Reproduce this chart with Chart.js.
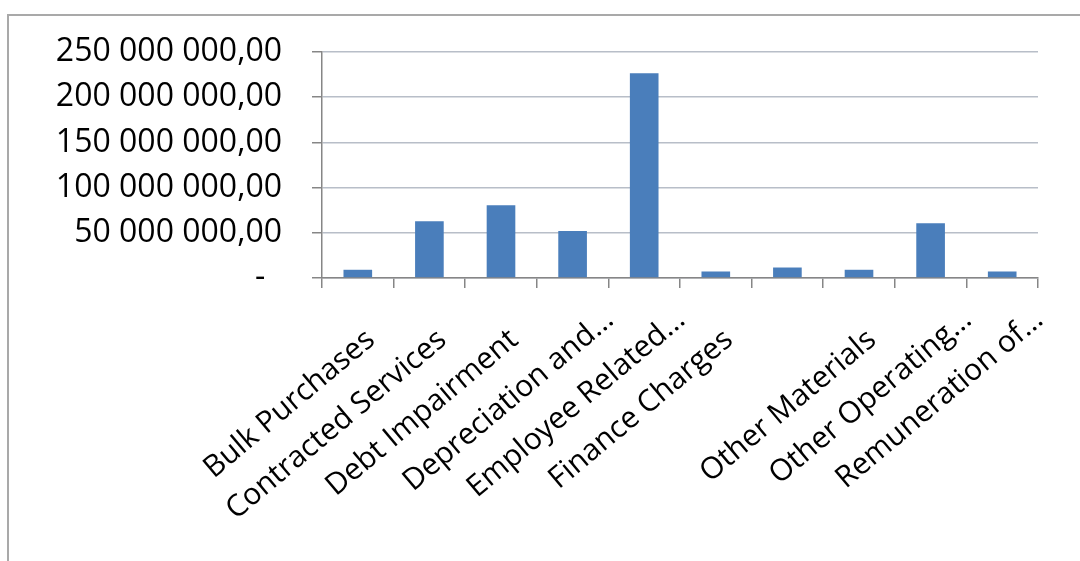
<!DOCTYPE html>
<html><head><meta charset="utf-8">
<script src="https://cdn.jsdelivr.net/npm/chart.js@4.4.1/dist/chart.umd.min.js"></script>
<style>
html,body{margin:0;padding:0;background:#fff;overflow:hidden;}
#wrap{position:relative;width:1080px;height:561px;overflow:hidden;}
#frame{position:absolute;left:7px;top:14px;width:1100px;height:600px;border:2px solid #a9a9a9;box-sizing:border-box;}
canvas{position:absolute;left:0;top:0;}
</style></head>
<body><div id="wrap"><div id="frame"></div><canvas id="c" width="1080" height="561"></canvas></div>
<script>
const categories = ['Bulk Purchases','Contracted Services','Debt Impairment','Depreciation and…','Employee Related…','Finance Charges','','Other Materials','Other Operating…','Remuneration of…'];
const expenditure = [9100000, 62800000, 80400000, 51900000, 226500000, 7200000, 11600000, 9100000, 60600000, 7200000];
const yTickValues = [0, 50000000, 100000000, 150000000, 200000000, 250000000];
const yTickLabels = ['-', '50 000 000,00', '100 000 000,00', '150 000 000,00', '200 000 000,00', '250 000 000,00'];

const XFONT = {family: "'Open Sans', sans-serif", size: 30};
const YFONT = {family: "'Open Sans', sans-serif", size: 32};
new Chart(document.getElementById('c'), {
  type: 'bar',
  data: {
    labels: categories,
    datasets: [{
      data: expenditure,
      backgroundColor: '#4a7ebb',
      borderWidth: 0,
      categoryPercentage: 1.0,
      barPercentage: 0.4
    }]
  },
  options: {
    responsive: false,
    animation: false,
    devicePixelRatio: 1,
    layout: {padding: {top: 52, right: 42, bottom: 0, left: 0}},
    plugins: {legend: {display: false}, tooltip: {enabled: false}},
    scales: {
      x: {
        grid: {display: true, drawOnChartArea: false, drawTicks: true, tickLength: 10, color: '#868686', lineWidth: 1.5},
        border: {display: true, color: '#868686', width: 1.5},
        ticks: {
          autoSkip: false, minRotation: 40, maxRotation: 40,
          padding: 14, labelOffset: 37,
          color: '#000', font: XFONT,
          callback: function(v, i) {
            const t = categories[i];
            return t.endsWith('…') ? t : t + '    ';
          }
        },
        afterFit: (s) => { s.height = 283; }
      },
      y: {
        min: 0, max: 250000000,
        afterBuildTicks: (s) => { s.ticks = yTickValues.map(v => ({value: v})); },
        grid: {color: '#b8bec8', lineWidth: 1.5, tickLength: 10, tickColor: '#868686'},
        border: {display: true, color: '#868686', width: 1.5},
        ticks: {
          padding: 30, color: '#000', font: YFONT,
          callback: (v) => { const t = yTickLabels[yTickValues.indexOf(v)]; return t === '-' ? '-  ' : t; }
        },
        afterFit: (s) => { s.width = 322; }
      }
    }
  }
});
</script>
</body></html>
